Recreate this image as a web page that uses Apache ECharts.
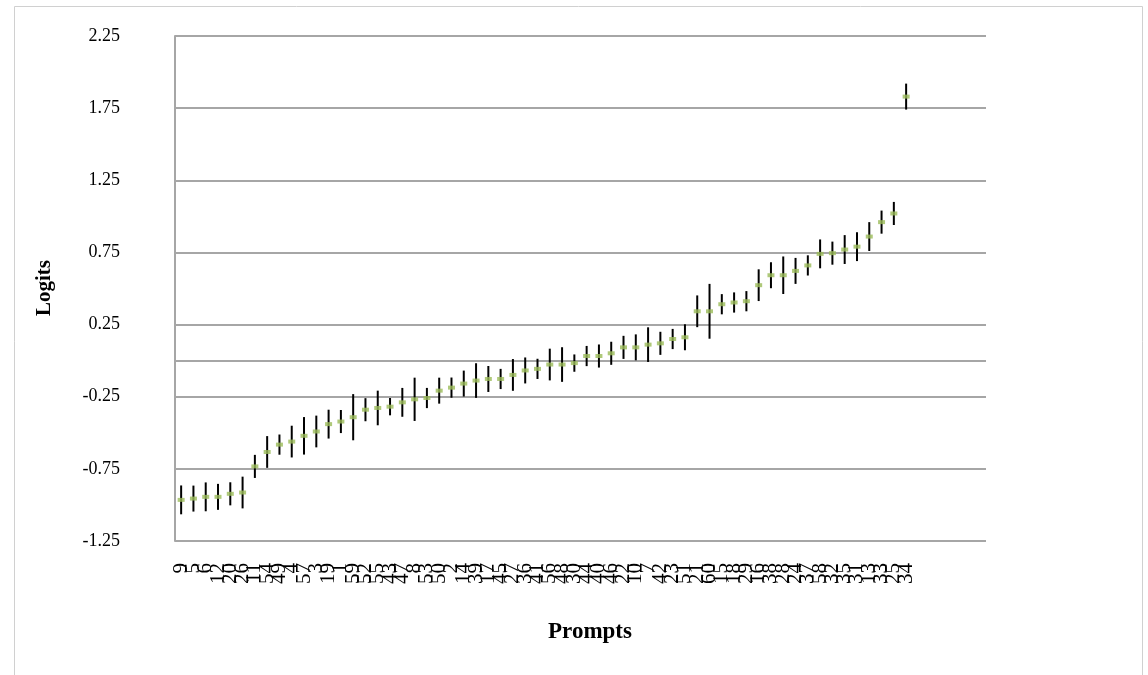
<!DOCTYPE html>
<html>
<head>
<meta charset="utf-8">
<script src="https://cdn.jsdelivr.net/npm/echarts@6/dist/echarts.min.js"></script>
<style>html,body{margin:0;padding:0;background:#fff;}#chart{width:1148px;height:675px;}</style>
</head>
<body>
<div id="chart"></div>
<script>
var prompts = ['9','5','6','12','20','26','11','54','49','4','57','3','19','1','59','52','55','43','47','8','53','50','2','14','39','17','45','27','36','41','56','48','30','44','40','46','22','10','7','42','23','51','21','60','15','18','29','16','38','28','24','37','58','32','35','31','13','33','25','34'];
var logits = [-0.965,-0.956,-0.944,-0.944,-0.923,-0.914,-0.733,-0.633,-0.582,-0.561,-0.521,-0.491,-0.440,-0.422,-0.392,-0.340,-0.328,-0.319,-0.289,-0.268,-0.259,-0.208,-0.187,-0.159,-0.138,-0.127,-0.127,-0.099,-0.068,-0.057,-0.027,-0.027,-0.017,0.032,0.032,0.051,0.092,0.092,0.111,0.120,0.150,0.162,0.342,0.342,0.391,0.403,0.412,0.523,0.592,0.592,0.622,0.660,0.740,0.745,0.770,0.790,0.860,0.960,1.020,1.830];
var errors = [0.10,0.09,0.10,0.09,0.08,0.11,0.08,0.11,0.07,0.11,0.13,0.11,0.10,0.08,0.16,0.08,0.12,0.06,0.10,0.15,0.07,0.09,0.07,0.09,0.12,0.09,0.07,0.11,0.09,0.07,0.11,0.12,0.06,0.07,0.08,0.08,0.08,0.09,0.12,0.08,0.07,0.09,0.11,0.19,0.07,0.07,0.07,0.11,0.09,0.13,0.09,0.07,0.10,0.08,0.10,0.10,0.10,0.08,0.08,0.09];
var yTicks = { min: -1.25, max: 2.25, step: 0.5 };
var emptySlots = 6; // blank category rows at the end of the axis

var chart = echarts.init(document.getElementById('chart'), null, { renderer: 'canvas' });
var serif = 'Liberation Serif';
var gridColor = '#a6a6a6';

var categories = prompts.slice();
for (var k = 0; k < emptySlots; k++) categories.push('');

var barData = logits.map(function (v, i) { return [i, v, errors[i]]; });
var pointData = logits.map(function (v, i) { return [i, v]; });

chart.setOption({
  animation: false,
  backgroundColor: '#fff',
  grid: { left: 175, right: 162, top: 36, bottom: 134, containLabel: false },
  xAxis: {
    type: 'category',
    data: categories,
    boundaryGap: true,
    axisLine: { show: false },
    axisTick: { show: false },
    splitLine: { show: false },
    axisLabel: { rotate: 90, interval: 0, margin: 22, fontFamily: serif, fontSize: 21, color: '#000' }
  },
  yAxis: {
    type: 'value',
    min: yTicks.min,
    max: yTicks.max,
    interval: yTicks.step,
    axisLine: { show: true, lineStyle: { color: gridColor, width: 2 } },
    axisTick: { show: false },
    splitLine: { show: true, lineStyle: { color: gridColor, width: 2 } },
    axisLabel: {
      margin: 55, fontFamily: serif, fontSize: 18, color: '#000',
      formatter: function (v) { return v.toFixed(2); }
    }
  },
  series: [
    {
      type: 'custom',
      data: barData,
      z: 3,
      renderItem: function (params, api) {
        var i = api.value(0), v = api.value(1), e = api.value(2);
        var p1 = api.coord([i, v + e]);
        var p2 = api.coord([i, v - e]);
        return {
          type: 'line',
          shape: { x1: p1[0], y1: p1[1], x2: p2[0], y2: p2[1] },
          style: { stroke: '#000', lineWidth: 2 }
        };
      }
    },
    {
      type: 'scatter',
      data: pointData,
      z: 4,
      symbol: 'rect',
      symbolSize: [7, 4],
      itemStyle: { color: '#9bbb59' },
      markLine: {
        silent: true,
        symbol: 'none',
        z: 1,
        label: { show: false },
        lineStyle: { color: gridColor, width: 2, type: 'solid' },
        data: [{ yAxis: 0 }]
      }
    }
  ],
  graphic: [
    {
      type: 'rect', left: 12, top: 4, z: -1, silent: true,
      shape: { width: 1128, height: 700 },
      style: { fill: 'none', stroke: '#d0d0d0', lineWidth: 1 }
    },
    {
      type: 'text', x: 45, y: 288, rotation: Math.PI / 2, silent: true,
      style: { text: 'Logits', fontFamily: serif, fontSize: 21, fontWeight: 'bold', fill: '#000', align: 'center', verticalAlign: 'middle' }
    },
    {
      type: 'text', x: 590, y: 632, silent: true,
      style: { text: 'Prompts', fontFamily: serif, fontSize: 23, fontWeight: 'bold', fill: '#000', align: 'center', verticalAlign: 'middle' }
    }
  ]
});
</script>
</body>
</html>
